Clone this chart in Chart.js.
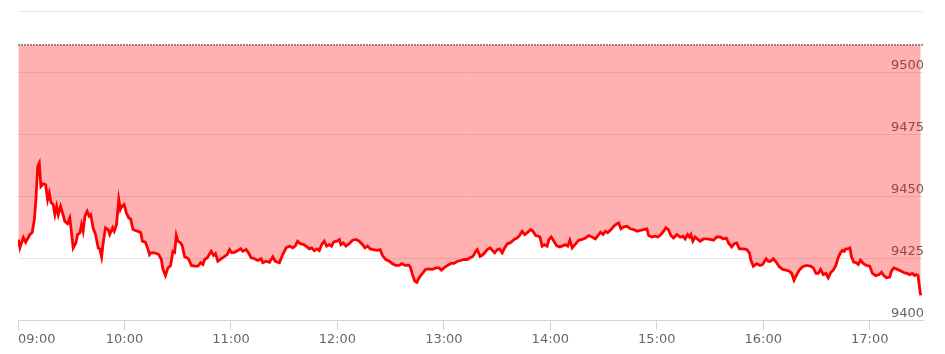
<!DOCTYPE html>
<html>
<head>
<meta charset="utf-8">
<script src="https://cdn.jsdelivr.net/npm/chart.js@4/dist/chart.umd.min.js"></script>
<style>
  html, body { margin: 0; padding: 0; background: #fff; }
  #wrap { width: 945px; height: 354px; }
</style>
</head>
<body>
<div id="wrap"><canvas id="chart" width="945" height="354"></canvas></div>
<script>
// minutes after 09:00
const minutes = [
  0.2, 1.1, 3.0, 4.3, 5.8, 6.7, 8.0, 9.2, 10.1, 11.1, 12.0, 12.9, 14.2, 15.6, 16.7, 17.6, 18.6, 19.8, 20.8, 21.8,
  22.7, 24.0, 25.1, 26.4, 27.9, 29.2, 31.1, 32.6, 33.6, 34.9, 35.8, 36.7, 37.7, 39.0, 40.1, 41.0, 42.3, 43.7, 45.2, 46.1,
  47.1, 48.0, 49.3, 50.8, 51.7, 53.3, 54.2, 55.5, 56.8, 57.7, 58.6, 59.8, 61.1, 62.4, 63.5, 64.8, 66.2, 67.6, 69.2, 70.1,
  71.8, 73.3, 74.1, 74.8, 77.0, 79.3, 80.8, 81.7, 83.1, 84.5, 86.0, 87.3, 88.3, 89.2, 90.1, 91.7, 92.6, 93.9, 95.2, 96.3,
  97.7, 99.5, 101.4, 102.9, 104.2, 105.2, 106.7, 108.0, 108.9, 110.2, 111.3, 112.6, 114.5, 116.4, 117.9, 119.2, 120.5, 122.0, 123.9, 125.4,
  126.7, 128.6, 129.9, 131.4, 133.3, 135.1, 137.0, 137.9, 139.8, 141.7, 143.6, 144.9, 146.4, 147.3, 149.2, 151.1, 153.0, 154.8, 156.2, 157.6,
  159.1, 161.0, 162.3, 164.2, 165.5, 167.0, 168.5, 169.8, 171.1, 172.6, 173.9, 175.4, 176.7, 177.9, 179.8, 181.1, 182.0, 183.3, 184.8, 186.7,
  188.5, 190.5, 192.3, 194.2, 195.5, 197.0, 198.5, 200.3, 202.3, 204.1, 205.4, 207.3, 209.2, 211.0, 212.9, 214.8, 216.3, 218.2, 220.3, 221.0,
  222.3, 223.6, 224.8, 226.0, 227.9, 229.8, 231.7, 233.5, 235.4, 237.3, 238.6, 240.1, 242.0, 243.9, 245.7, 247.6, 249.5, 251.4, 253.2, 254.7,
  256.0, 257.0, 257.9, 258.8, 260.4, 261.6, 263.0, 264.4, 266.0, 267.3, 268.6, 270.1, 271.4, 272.9, 274.2, 275.7, 277.2, 278.5, 280.0, 281.3,
  282.7, 284.1, 285.5, 286.9, 288.9, 290.2, 291.7, 293.4, 294.1, 295.4, 296.7, 298.2, 299.2, 300.5, 302.0, 303.5, 305.3, 307.2, 308.5, 309.8,
  311.0, 312.3, 313.2, 314.7, 316.0, 317.9, 319.8, 321.6, 323.5, 325.4, 327.3, 328.2, 329.7, 331.0, 332.3, 334.2, 336.1, 337.6, 338.5, 339.8,
  341.3, 343.2, 345.1, 347.0, 348.8, 350.7, 352.6, 354.4, 355.4, 357.2, 359.1, 360.6, 362.3, 363.8, 365.1, 366.5, 367.9, 369.4, 371.3, 373.2,
  374.7, 376.0, 377.3, 378.4, 379.2, 380.3, 381.6, 383.1, 384.4, 386.3, 388.2, 390.1, 391.9, 393.8, 395.7, 397.5, 399.1, 400.4, 402.2, 403.6,
  405.0, 406.5, 408.8, 410.7, 412.2, 412.9, 414.4, 416.3, 418.2, 419.6, 421.6, 422.8, 424.1, 425.7, 427.5, 429.0, 430.9, 432.8, 434.7, 436.0,
  437.3, 438.4, 440.3, 442.1, 444.4, 446.6, 448.2, 449.7, 451.0, 452.3, 453.8, 455.3, 456.6, 457.9, 459.4, 460.9, 462.2, 463.5, 464.6, 465.6,
  466.5, 467.8, 468.8, 469.7, 471.0, 472.5, 473.5, 474.8, 476.3, 478.1, 480.0, 481.5, 483.4, 485.3, 486.6, 487.9, 489.4, 491.3, 492.2, 493.5,
  495.0, 496.5, 497.8, 499.7, 501.0, 502.5, 504.0, 505.3, 506.2, 507.2, 508.2, 508.7
];

const prices = [
  9432.7, 9429.4, 9433.5, 9431.6, 9433.5, 9434.7, 9435.5, 9440.7, 9448.8, 9462.2, 9463.6, 9454.1, 9455.2, 9454.8, 9448.8, 9451.5, 9447.6, 9446.8, 9442.7, 9446.1,
  9442.7, 9446.1, 9443.4, 9440.0, 9439.1, 9441.4, 9429.3, 9431.3, 9434.7, 9435.4, 9438.7, 9436.0, 9442.1, 9444.1, 9442.1, 9442.7, 9437.4, 9434.7, 9429.3, 9428.9,
  9425.7, 9431.3, 9437.4, 9436.7, 9434.7, 9437.4, 9436.0, 9438.7, 9448.8, 9444.8, 9446.1, 9446.8, 9443.4, 9441.4, 9441.0, 9436.7, 9436.3, 9436.0, 9435.4, 9432.0,
  9431.6, 9428.6, 9426.6, 9427.3, 9427.3, 9426.6, 9424.6, 9420.6, 9418.1, 9421.2, 9422.2, 9427.9, 9427.5, 9434.3, 9432.0, 9431.3, 9430.0, 9425.7, 9425.3, 9424.6,
  9422.2, 9421.9, 9421.9, 9423.3, 9422.6, 9424.6, 9425.3, 9426.9, 9427.9, 9426.2, 9427.0, 9423.9, 9424.9, 9425.9, 9426.6, 9428.6, 9427.3, 9427.5, 9428.2, 9429.0,
  9427.9, 9428.6, 9427.3, 9425.3, 9424.9, 9424.2, 9424.9, 9423.3, 9423.9, 9423.5, 9425.7, 9423.9, 9423.5, 9423.3, 9426.6, 9429.3, 9430.0, 9429.3, 9430.0, 9432.0,
  9431.0, 9430.6, 9430.0, 9428.9, 9429.3, 9428.2, 9428.9, 9428.2, 9430.6, 9432.0, 9430.0, 9430.6, 9430.0, 9431.7, 9432.0, 9432.7, 9430.6, 9431.3, 9430.0, 9431.0,
  9432.4, 9432.7, 9432.0, 9430.6, 9429.3, 9430.0, 9428.9, 9428.6, 9428.3, 9428.6, 9426.2, 9424.6, 9423.9, 9422.9, 9422.2, 9422.2, 9422.9, 9422.2, 9422.3, 9421.7,
  9418.5, 9415.8, 9415.4, 9417.2, 9419.0, 9420.6, 9420.8, 9420.6, 9421.2, 9421.2, 9420.3, 9421.2, 9422.2, 9423.0, 9423.0, 9423.9, 9424.2, 9424.6, 9424.6, 9425.3,
  9425.7, 9426.6, 9427.9, 9428.6, 9425.9, 9426.3, 9427.3, 9428.6, 9429.3, 9428.3, 9427.3, 9428.6, 9428.9, 9427.3, 9429.3, 9430.9, 9431.3, 9432.0, 9432.9, 9433.3,
  9434.3, 9436.0, 9434.7, 9435.4, 9436.7, 9436.0, 9434.3, 9434.0, 9433.7, 9430.0, 9430.6, 9430.0, 9432.7, 9433.7, 9432.0, 9430.2, 9429.7, 9430.2, 9430.6, 9430.0,
  9432.4, 9429.3, 9430.0, 9431.3, 9432.4, 9432.7, 9433.3, 9434.3, 9433.7, 9432.9, 9434.7, 9435.6, 9434.7, 9436.0, 9435.4, 9436.7, 9438.3, 9439.1, 9439.4, 9437.0,
  9437.8, 9438.0, 9437.0, 9436.7, 9436.0, 9436.4, 9436.7, 9437.0, 9434.3, 9433.7, 9434.0, 9433.7, 9434.7, 9436.0, 9437.4, 9436.7, 9434.3, 9433.3, 9434.7, 9433.6,
  9434.0, 9432.9, 9434.7, 9433.7, 9434.7, 9432.0, 9433.7, 9432.7, 9432.0, 9432.9, 9432.9, 9432.7, 9432.4, 9433.7, 9433.7, 9432.9, 9433.3, 9431.3, 9429.7, 9431.0,
  9431.3, 9428.9, 9428.9, 9428.6, 9427.3, 9424.6, 9421.9, 9422.9, 9422.2, 9422.6, 9424.9, 9423.9, 9423.9, 9424.9, 9423.3, 9421.7, 9420.6, 9420.3, 9419.9, 9419.0,
  9416.2, 9417.9, 9420.3, 9421.7, 9422.2, 9421.9, 9421.2, 9419.0, 9419.0, 9420.6, 9418.5, 9419.0, 9417.2, 9419.2, 9420.3, 9422.2, 9425.3, 9427.3, 9428.3, 9427.9,
  9428.9, 9428.9, 9429.3, 9425.7, 9423.5, 9423.3, 9422.6, 9424.3, 9423.0, 9422.2, 9421.9, 9419.0, 9418.1, 9418.5, 9419.5, 9418.1, 9417.2, 9417.5, 9419.9, 9421.2,
  9420.8, 9420.3, 9419.9, 9419.2, 9419.0, 9418.5, 9419.0, 9418.1, 9418.5, 9418.1, 9412.5, 9410.1
];

const prevClose = 9511.3;
const sessionEnd = 510; // 17:30
const yTicks = [9400, 9425, 9450, 9475, 9500, 9525];

function fmtTime(m) {
  const t = 540 + m;
  const h = Math.floor(t / 60), mm = t % 60;
  return String(h).padStart(2, "0") + ":" + String(mm).padStart(2, "0");
}

const labelFont = { family: "DejaVu Sans", size: 13 };

new Chart(document.getElementById("chart"), {
  type: "line",
  data: {
    datasets: [
      {
        data: minutes.map((m, i) => ({ x: m, y: prices[i] })),
        borderColor: "#ff0000",
        borderWidth: 2.8,
        backgroundColor: "rgba(255,0,0,0.31)",
        fill: { value: prevClose },
        pointRadius: 0,
        tension: 0
      },
      {
        data: [{ x: 0, y: prevClose }, { x: sessionEnd, y: prevClose }],
        borderColor: "#333",
        borderWidth: 1,
        borderDash: [2, 1],
        pointRadius: 0,
        fill: false
      }
    ]
  },
  options: {
    responsive: false,
    animation: false,
    layout: { padding: { left: 18, right: 20, top: 11, bottom: 6 } },
    plugins: { legend: { display: false }, tooltip: { enabled: false } },
    scales: {
      x: {
        type: "linear",
        min: 0,
        max: sessionEnd,
        ticks: {
          stepSize: 60,
          align: "inner",
          padding: 1,
          color: "#666",
          font: labelFont,
          maxRotation: 0,
          autoSkip: false,
          callback: (v) => (v % 60 === 0 ? fmtTime(v) : "")
        },
        grid: {
          drawOnChartArea: false,
          drawTicks: true,
          tickLength: 10,
          tickColor: (ctx) => (ctx.tick && ctx.tick.value % 60 === 0 ? "#ccd6eb" : "rgba(0,0,0,0)")
        },
        border: { color: "#ccd6eb", width: 1 }
      },
      y: {
        position: "right",
        min: 9400,
        max: 9525,
        afterBuildTicks: (axis) => { axis.ticks = yTicks.map((v) => ({ value: v })); },
        ticks: {
          mirror: true,
          padding: 1,
          labelOffset: -7,
          color: "#666",
          font: labelFont,
          callback: (v) => (v === 9525 ? "" : String(v))
        },
        grid: {
          drawTicks: false,
          color: (ctx) => (ctx.tick && ctx.tick.value === 9400 ? "rgba(0,0,0,0)" : "#e6e6e6")
        },
        border: { display: false }
      }
    }
  }
});
</script>
</body>
</html>
